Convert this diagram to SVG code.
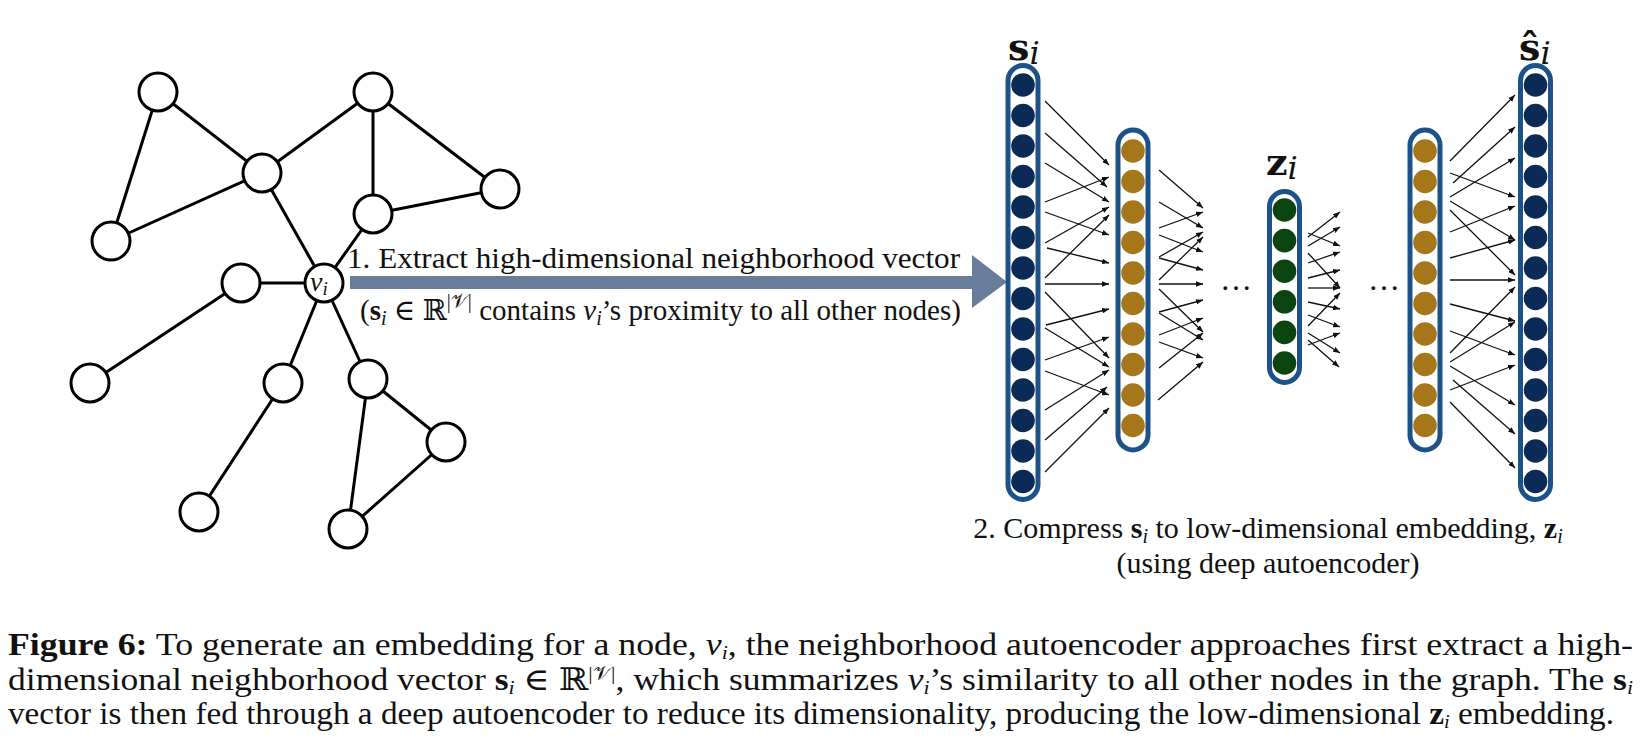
<svg xmlns="http://www.w3.org/2000/svg" width="1643" height="740" viewBox="0 0 1643 740">
<style>
.g{fill:#fff;stroke:#000;stroke-width:3}
.e{stroke:#000;stroke-width:3;fill:none}
.col{fill:#fff;stroke:#1c5288;stroke-width:5}
.nv{fill:#0b2a55}
.gd{fill:#a5761a}
.gr{fill:#0a4510}
.c{stroke:#111;stroke-width:1.3;fill:none;marker-end:url(#ah)}
.t{font-family:"Liberation Serif","DejaVu Serif",serif;fill:#111}
.m{font-family:"DejaVu Serif","Liberation Serif",serif;fill:#111}
</style>
<defs>
<marker id="ah" viewBox="0 0 10 8" refX="10" refY="4" markerWidth="7" markerHeight="5.6" markerUnits="userSpaceOnUse" orient="auto"><path d="M0,0 L10,4 L0,8 z" fill="#111"/></marker>
</defs>
<rect width="1643" height="740" fill="#fff"/>

<g id="graph-edges">
<line class="e" x1="158" y1="92" x2="262" y2="173"/>
<line class="e" x1="158" y1="92" x2="111" y2="241"/>
<line class="e" x1="111" y1="241" x2="262" y2="173"/>
<line class="e" x1="262" y1="173" x2="373" y2="92"/>
<line class="e" x1="373" y1="92" x2="373" y2="214"/>
<line class="e" x1="373" y1="92" x2="500" y2="189"/>
<line class="e" x1="373" y1="214" x2="500" y2="189"/>
<line class="e" x1="262" y1="173" x2="324" y2="283"/>
<line class="e" x1="373" y1="214" x2="324" y2="283"/>
<line class="e" x1="324" y1="283" x2="241" y2="283"/>
<line class="e" x1="241" y1="283" x2="90" y2="383"/>
<line class="e" x1="324" y1="283" x2="283" y2="383"/>
<line class="e" x1="283" y1="383" x2="199" y2="512"/>
<line class="e" x1="324" y1="283" x2="368" y2="379"/>
<line class="e" x1="368" y1="379" x2="446" y2="442"/>
<line class="e" x1="368" y1="379" x2="348" y2="529"/>
<line class="e" x1="446" y1="442" x2="348" y2="529"/>
</g>
<g id="n1"><circle class="g" cx="158" cy="92" r="19"/></g>
<g id="n2"><circle class="g" cx="373" cy="92" r="19"/></g>
<g id="n3"><circle class="g" cx="262" cy="173" r="19"/></g>
<g id="n4"><circle class="g" cx="111" cy="241" r="19"/></g>
<g id="n5"><circle class="g" cx="373" cy="214" r="19"/></g>
<g id="n6"><circle class="g" cx="500" cy="189" r="19"/></g>
<g id="vi"><circle class="g" cx="324" cy="283" r="19"/><text class="t" x="310" y="291" font-size="28" font-style="italic">v<tspan font-size="19" dy="4">i</tspan></text></g>
<g id="n8"><circle class="g" cx="241" cy="283" r="19"/></g>
<g id="n9"><circle class="g" cx="90" cy="383" r="19"/></g>
<g id="n10"><circle class="g" cx="283" cy="383" r="19"/></g>
<g id="n11"><circle class="g" cx="368" cy="379" r="19"/></g>
<g id="n12"><circle class="g" cx="446" cy="442" r="19"/></g>
<g id="n13"><circle class="g" cx="199" cy="512" r="19"/></g>
<g id="n14"><circle class="g" cx="348" cy="529" r="19"/></g>

<g id="connectors">
<rect x="350" y="276" width="623" height="13" fill="#687d99"/>
<polygon points="972,255 1007,282 972,308" fill="#687d99"/>
<line class="c" x1="1045" y1="101" x2="1109" y2="165"/>
<line class="c" x1="1045" y1="133" x2="1107" y2="187"/>
<line class="c" x1="1045" y1="163" x2="1109" y2="202"/>
<line class="c" x1="1045" y1="202" x2="1109" y2="177"/>
<line class="c" x1="1045" y1="212" x2="1109" y2="235"/>
<line class="c" x1="1045" y1="243" x2="1109" y2="207"/>
<line class="c" x1="1047" y1="248" x2="1109" y2="263"/>
<line class="c" x1="1045" y1="278" x2="1109" y2="215"/>
<line class="c" x1="1045" y1="284" x2="1109" y2="284"/>
<line class="c" x1="1045" y1="292" x2="1109" y2="358"/>
<line class="c" x1="1046" y1="325" x2="1109" y2="309"/>
<line class="c" x1="1045" y1="328" x2="1109" y2="367"/>
<line class="c" x1="1045" y1="360" x2="1109" y2="337"/>
<line class="c" x1="1045" y1="371" x2="1109" y2="395"/>
<line class="c" x1="1045" y1="410" x2="1109" y2="370"/>
<line class="c" x1="1045" y1="440" x2="1107" y2="387"/>
<line class="c" x1="1045" y1="472" x2="1109" y2="408"/>

<line class="c" x1="1159" y1="170" x2="1203" y2="208"/>
<line class="c" x1="1159" y1="202" x2="1203" y2="228"/>
<line class="c" x1="1159" y1="228" x2="1203" y2="212"/>
<line class="c" x1="1159" y1="235" x2="1203" y2="252"/>
<line class="c" x1="1159" y1="257" x2="1203" y2="232"/>
<line class="c" x1="1159" y1="258" x2="1203" y2="270"/>
<line class="c" x1="1159" y1="280" x2="1203" y2="237"/>
<line class="c" x1="1159" y1="284" x2="1203" y2="284"/>
<line class="c" x1="1159" y1="289" x2="1203" y2="332"/>
<line class="c" x1="1159" y1="312" x2="1203" y2="300"/>
<line class="c" x1="1159" y1="313" x2="1203" y2="340"/>
<line class="c" x1="1159" y1="335" x2="1203" y2="318"/>
<line class="c" x1="1159" y1="342" x2="1203" y2="358"/>
<line class="c" x1="1159" y1="368" x2="1203" y2="333"/>
<line class="c" x1="1158" y1="400" x2="1203" y2="362"/>

<line class="c" x1="1308" y1="237" x2="1340" y2="212"/>
<line class="c" x1="1308" y1="233" x2="1340" y2="246"/>
<line class="c" x1="1308" y1="246" x2="1340" y2="227"/>
<line class="c" x1="1308" y1="253" x2="1340" y2="288"/>
<line class="c" x1="1308" y1="263" x2="1340" y2="252"/>
<line class="c" x1="1308" y1="278" x2="1340" y2="270"/>
<line class="c" x1="1308" y1="288" x2="1340" y2="288"/>
<line class="c" x1="1308" y1="302" x2="1340" y2="309"/>
<line class="c" x1="1308" y1="315" x2="1340" y2="327"/>
<line class="c" x1="1308" y1="326" x2="1340" y2="293"/>
<line class="c" x1="1308" y1="333" x2="1340" y2="353"/>
<line class="c" x1="1308" y1="345" x2="1340" y2="333"/>
<line class="c" x1="1308" y1="340" x2="1339" y2="367"/>

<line class="c" x1="1450" y1="161" x2="1515" y2="95"/>
<line class="c" x1="1453" y1="183" x2="1515" y2="127"/>
<line class="c" x1="1450" y1="173" x2="1515" y2="197"/>
<line class="c" x1="1450" y1="197" x2="1515" y2="158"/>
<line class="c" x1="1450" y1="201" x2="1515" y2="240"/>
<line class="c" x1="1450" y1="210" x2="1515" y2="275"/>
<line class="c" x1="1450" y1="232" x2="1515" y2="206"/>
<line class="c" x1="1450" y1="258" x2="1515" y2="240"/>
<line class="c" x1="1450" y1="280" x2="1515" y2="280"/>
<line class="c" x1="1450" y1="304" x2="1515" y2="321"/>
<line class="c" x1="1450" y1="331" x2="1515" y2="355"/>
<line class="c" x1="1450" y1="353" x2="1515" y2="287"/>
<line class="c" x1="1450" y1="362" x2="1515" y2="322"/>
<line class="c" x1="1450" y1="366" x2="1515" y2="405"/>
<line class="c" x1="1450" y1="390" x2="1515" y2="365"/>
<line class="c" x1="1453" y1="380" x2="1515" y2="434"/>
<line class="c" x1="1450" y1="402" x2="1515" y2="468"/>
</g>

<g id="s-col">
<rect class="col" x="1008" y="65.5" width="30" height="434" rx="15"/>
<g class="nv">
<circle cx="1023" cy="85" r="11.8"/><circle cx="1023" cy="115.5" r="11.8"/><circle cx="1023" cy="146" r="11.8"/><circle cx="1023" cy="176.5" r="11.8"/><circle cx="1023" cy="207" r="11.8"/><circle cx="1023" cy="237.5" r="11.8"/><circle cx="1023" cy="268" r="11.8"/><circle cx="1023" cy="298.5" r="11.8"/><circle cx="1023" cy="329" r="11.8"/><circle cx="1023" cy="359.5" r="11.8"/><circle cx="1023" cy="390" r="11.8"/><circle cx="1023" cy="420.5" r="11.8"/><circle cx="1023" cy="451" r="11.8"/><circle cx="1023" cy="481.5" r="11.8"/>
</g>
<text class="m" x="1008" y="60" font-size="38" font-weight="bold">s<tspan font-weight="normal" font-style="italic" font-size="32" dy="4">i</tspan></text>
</g>

<g id="h1-col">
<rect class="col" x="1118" y="130" width="30" height="320" rx="15"/>
<g class="gd">
<circle cx="1133" cy="151" r="11.8"/><circle cx="1133" cy="181.5" r="11.8"/><circle cx="1133" cy="212" r="11.8"/><circle cx="1133" cy="242.5" r="11.8"/><circle cx="1133" cy="273" r="11.8"/><circle cx="1133" cy="303.5" r="11.8"/><circle cx="1133" cy="334" r="11.8"/><circle cx="1133" cy="364.5" r="11.8"/><circle cx="1133" cy="395" r="11.8"/><circle cx="1133" cy="425.5" r="11.8"/>
</g>
</g>

<g id="dots1"><text class="t" x="1236" y="290" font-size="32" text-anchor="middle">…</text></g>

<g id="z-col">
<rect class="col" x="1269.5" y="191.5" width="30" height="191" rx="15"/>
<g class="gr">
<circle cx="1284.5" cy="210" r="11.8"/><circle cx="1284.5" cy="240.6" r="11.8"/><circle cx="1284.5" cy="271.2" r="11.8"/><circle cx="1284.5" cy="301.8" r="11.8"/><circle cx="1284.5" cy="332.4" r="11.8"/><circle cx="1284.5" cy="363" r="11.8"/>
</g>
<text class="m" x="1266" y="175" font-size="38" font-weight="bold">z<tspan font-weight="normal" font-style="italic" font-size="32" dy="4">i</tspan></text>
</g>

<g id="dots2"><text class="t" x="1384" y="290" font-size="32" text-anchor="middle">…</text></g>

<g id="h2-col">
<rect class="col" x="1410" y="130" width="30" height="320" rx="15"/>
<g class="gd">
<circle cx="1425" cy="151" r="11.8"/><circle cx="1425" cy="181.5" r="11.8"/><circle cx="1425" cy="212" r="11.8"/><circle cx="1425" cy="242.5" r="11.8"/><circle cx="1425" cy="273" r="11.8"/><circle cx="1425" cy="303.5" r="11.8"/><circle cx="1425" cy="334" r="11.8"/><circle cx="1425" cy="364.5" r="11.8"/><circle cx="1425" cy="395" r="11.8"/><circle cx="1425" cy="425.5" r="11.8"/>
</g>
</g>

<g id="shat-col">
<rect class="col" x="1520.5" y="65.5" width="30" height="434" rx="15"/>
<g class="nv">
<circle cx="1535.5" cy="85" r="11.8"/><circle cx="1535.5" cy="115.5" r="11.8"/><circle cx="1535.5" cy="146" r="11.8"/><circle cx="1535.5" cy="176.5" r="11.8"/><circle cx="1535.5" cy="207" r="11.8"/><circle cx="1535.5" cy="237.5" r="11.8"/><circle cx="1535.5" cy="268" r="11.8"/><circle cx="1535.5" cy="298.5" r="11.8"/><circle cx="1535.5" cy="329" r="11.8"/><circle cx="1535.5" cy="359.5" r="11.8"/><circle cx="1535.5" cy="390" r="11.8"/><circle cx="1535.5" cy="420.5" r="11.8"/><circle cx="1535.5" cy="451" r="11.8"/><circle cx="1535.5" cy="481.5" r="11.8"/>
</g>
<text class="m" x="1519" y="60" font-size="38" font-weight="bold">ŝ<tspan font-weight="normal" font-style="italic" font-size="32" dy="4">i</tspan></text>
</g>

<g id="label-step1">
<text class="t" x="347" y="268" font-size="30" textLength="613" lengthAdjust="spacingAndGlyphs">1. Extract high-dimensional neighborhood vector</text>
<text class="t" x="360" y="320" font-size="29" textLength="601">(<tspan font-weight="bold">s</tspan><tspan font-style="italic" font-size="20" dy="5">i</tspan><tspan dy="-5"> ∈ ℝ</tspan><tspan font-size="20" dy="-12">|𝒱|</tspan><tspan dy="12"> contains </tspan><tspan font-style="italic">v</tspan><tspan font-style="italic" font-size="20" dy="5">i</tspan><tspan dy="-5">’s proximity to all other nodes)</tspan></text>
</g>

<g id="label-step2">
<text class="t" x="1268" y="538" font-size="30" text-anchor="middle">2. Compress <tspan font-weight="bold">s</tspan><tspan font-style="italic" font-size="20" dy="5">i</tspan><tspan dy="-5"> to low-dimensional embedding, </tspan><tspan font-weight="bold">z</tspan><tspan font-style="italic" font-size="20" dy="5">i</tspan></text>
<text class="t" x="1268" y="573" font-size="30" text-anchor="middle">(using deep autoencoder)</text>
</g>

<g id="caption">
<text class="t" x="8" y="655" font-size="31" textLength="1625" lengthAdjust="spacingAndGlyphs"><tspan font-weight="bold">Figure 6:</tspan>  To generate an embedding for a node, <tspan font-style="italic">v</tspan><tspan font-style="italic" font-size="19" dy="4">i</tspan><tspan dy="-4">, the neighborhood autoencoder approaches first extract a high-</tspan></text>
<text class="t" x="8" y="690" font-size="31" textLength="1625" lengthAdjust="spacingAndGlyphs">dimensional neighborhood vector <tspan font-weight="bold">s</tspan><tspan font-style="italic" font-size="19" dy="4">i</tspan><tspan dy="-4"> ∈ ℝ</tspan><tspan font-size="19" dy="-10">|𝒱|</tspan><tspan dy="10">, which summarizes </tspan><tspan font-style="italic">v</tspan><tspan font-style="italic" font-size="19" dy="4">i</tspan><tspan dy="-4">’s similarity to all other nodes in the graph.  The </tspan><tspan font-weight="bold">s</tspan><tspan font-style="italic" font-size="19" dy="4">i</tspan></text>
<text class="t" x="8" y="724" font-size="31" textLength="1606" lengthAdjust="spacingAndGlyphs">vector is then fed through a deep autoencoder to reduce its dimensionality, producing the low-dimensional <tspan font-weight="bold">z</tspan><tspan font-style="italic" font-size="19" dy="4">i</tspan><tspan dy="-4"> embedding.</tspan></text>
</g>
</svg>
